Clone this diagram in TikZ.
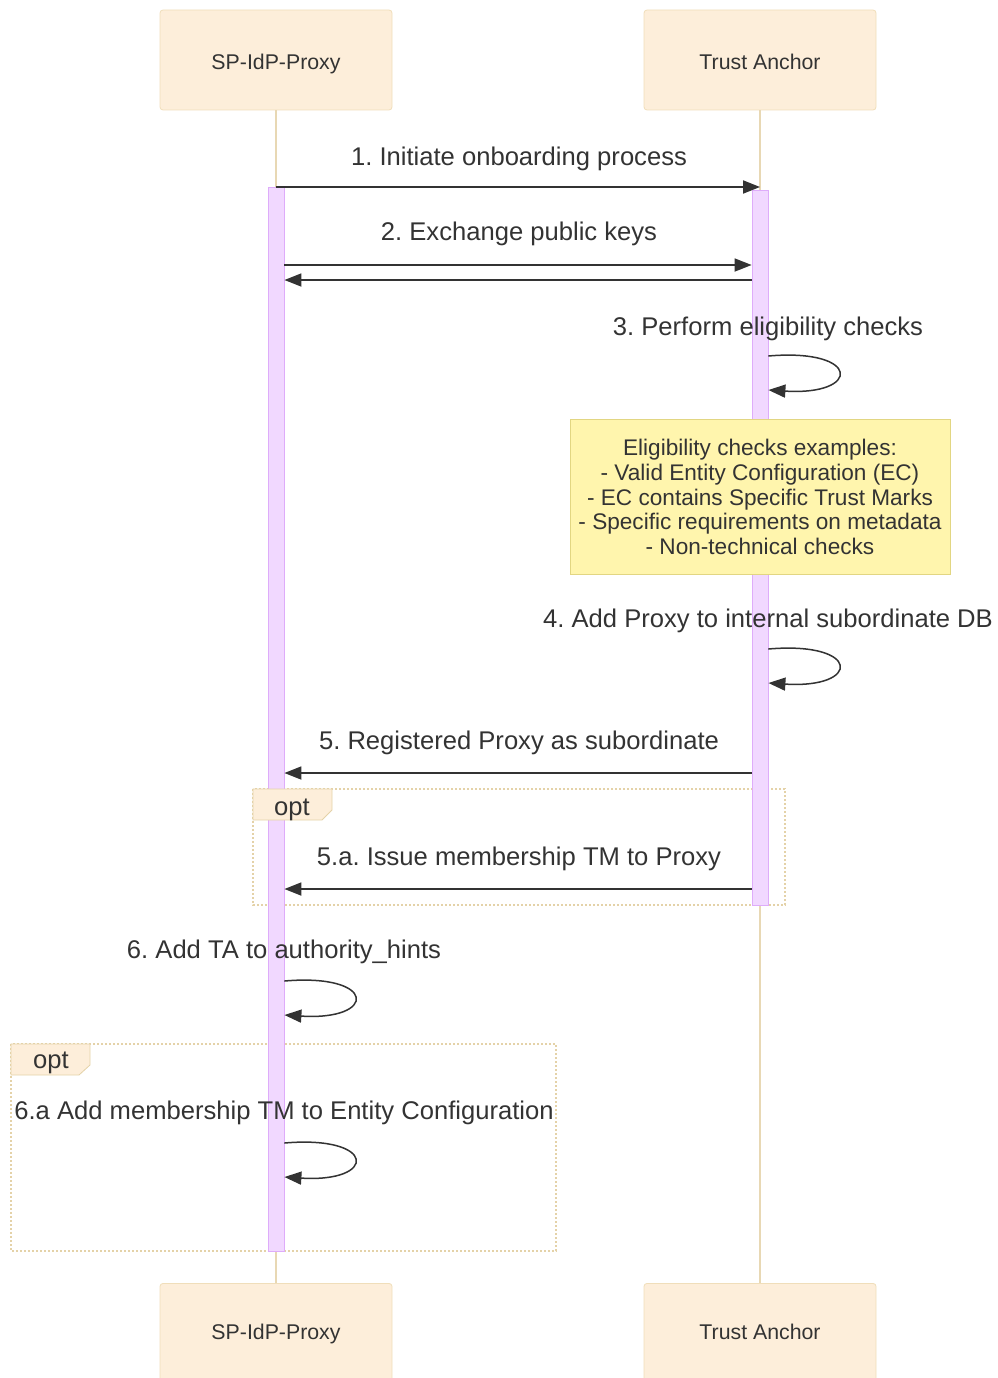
\documentclass[tikz,border=0pt]{standalone}
\usepackage{fontspec}
\setmainfont{Liberation Sans}
\usetikzlibrary{arrows.meta}
\frenchspacing

\definecolor{actorfill}{RGB}{253,238,218}
\definecolor{actorline}{RGB}{240,222,186}
\definecolor{lifeline}{RGB}{232,216,180}
\definecolor{actfill}{RGB}{241,216,255}
\definecolor{actline}{RGB}{222,172,250}
\definecolor{notefill}{RGB}{255,245,173}
\definecolor{noteline}{RGB}{226,214,130}
\definecolor{optline}{RGB}{228,210,168}
\definecolor{txt}{RGB}{51,51,51}
\definecolor{msgline}{RGB}{51,51,51}

\tikzset{
  actor/.style={draw=actorline, fill=actorfill, rounded corners=3pt, line width=0.8pt,
    minimum width=232pt, minimum height=100pt, inner sep=0pt},
  actortxt/.style={font=\fontsize{21.3}{24}\selectfont, text=txt, inner sep=0pt, anchor=base},
  lifeln/.style={draw=lifeline, line width=1.2pt},
  actbar/.style={draw=actline, fill=actfill, line width=0.8pt, minimum width=16pt, inner sep=0pt},
  msg/.style={draw=msgline, line width=1.8pt, -{Triangle[length=17pt,width=13pt]}},
  msglbl/.style={font=\fontsize{25.6}{28}\selectfont, text=txt, inner sep=0pt, anchor=base},
  notebox/.style={draw=noteline, fill=notefill, line width=0.8pt, minimum width=380pt,
    minimum height=155pt, inner sep=0pt},
  notetxt/.style={align=center, inner sep=0pt,
    font=\fontsize{22.6}{24.75}\selectfont, text=txt},
  optframe/.style={draw=optline, line width=1.8pt, dash pattern=on 2pt off 2pt},
  opttab/.style={draw=optline, fill=actorfill, line width=0.8pt},
  optlbl/.style={font=\fontsize{25.6}{28}\selectfont, text=txt, inner sep=0pt, anchor=base},
}

\begin{document}
\begin{tikzpicture}[x=1pt, y=-1pt]
\useasboundingbox (0,0) rectangle (998,1378);

% participants, top and bottom
\node[actor] (spTop) at (276,60) {};
\node[actor] (taTop) at (760,60) {};
\node[actortxt] (spTopTxt) at (276,69.5) {SP-IdP-Proxy};
\node[actortxt] (taTopTxt) at (760,69.5) {Trust Anchor};
\node[actor, anchor=north] (spBot) at (276,1283) {};
\node[actor, anchor=north] (taBot) at (760,1283) {};
\node[actortxt] (spBotTxt) at (276,1339.5) {SP-IdP-Proxy};
\node[actortxt] (taBotTxt) at (760,1339.5) {Trust Anchor};

% lifelines
\draw[lifeln] (spTop.south) -- (spBot.north);
\draw[lifeln] (taTop.south) -- (taBot.north);

% opt frames
\draw[optframe] (253,789) rectangle (785,905);
\draw[optframe] (11,1044) rectangle (556,1251);

% activation bars
\node[actbar, anchor=north, minimum height=1064pt] (spAct) at (276,187) {};
\node[actbar, anchor=north, minimum height=715pt] (taAct) at (760,190) {};

% message end points
\coordinate (m1s) at (276,187);
\coordinate (m1e) at (760,187);
\coordinate (m2s) at (spAct.east |- 0,265);
\coordinate (m2e) at (taAct.west |- 0,265);
\coordinate (m2bs) at (taAct.west |- 0,280);
\coordinate (m2be) at (spAct.east |- 0,280);
\coordinate (m5s) at (taAct.west |- 0,773);
\coordinate (m5e) at (spAct.east |- 0,773);
\coordinate (m5as) at (taAct.west |- 0,889);
\coordinate (m5ae) at (spAct.east |- 0,889);
\coordinate (l3s) at (taAct.east |- 0,356);
\coordinate (l3e) at (taAct.east |- 0,390);
\coordinate (l4s) at (taAct.east |- 0,649);
\coordinate (l4e) at (taAct.east |- 0,683);
\coordinate (l6s) at (spAct.east |- 0,981);
\coordinate (l6e) at (spAct.east |- 0,1015);
\coordinate (l6as) at (spAct.east |- 0,1143);
\coordinate (l6ae) at (spAct.east |- 0,1177);

% 1
\node[msglbl] (lbl1) at (519,165.5) {1. Initiate onboarding process};
\draw[msg] (m1s) -- (m1e);
% 2
\node[msglbl] (lbl2) at (519,240.5) {2. Exchange public keys};
\draw[msg] (m2s) -- (m2e);
\draw[msg] (m2bs) -- (m2be);
% 3
\node[msglbl] (lbl3) at (768,335) {3. Perform eligibility checks};
\draw[msg, line width=1.5pt] (l3s) .. controls ++(93,-8) and ++(93,6) .. (l3e);
% note
\node[notebox] (note) at (760,496.5) {};
\node[notetxt] (notetext) at (760,497) {Eligibility checks examples:\\
- Valid Entity Configuration (EC)\\
- EC contains Specific Trust Marks\\
- Specific requirements on metadata\\
- Non-technical checks};
% 4
\node[msglbl] (lbl4) at (768,627.5) {4. Add Proxy to internal subordinate DB};
\draw[msg, line width=1.5pt] (l4s) .. controls ++(93,-8) and ++(93,6) .. (l4e);
% 5
\node[msglbl] (lbl5) at (519,749.5) {5. Registered Proxy as subordinate};
\draw[msg] (m5s) -- (m5e);
% opt tab 1
\draw[opttab] (253,789) -- (332,789) -- (332,810) -- (322,820) -- (253,820) -- cycle;
\node[optlbl] (opt1) at (292,815) {opt};
% 5.a
\node[msglbl] (lbl5a) at (519,865.5) {5.a. Issue membership TM to Proxy};
\draw[msg] (m5as) -- (m5ae);
% 6
\node[msglbl] (lbl6) at (284,958.5) {6. Add TA to authority\_hints};
\draw[msg, line width=1.5pt] (l6s) .. controls ++(93,-8) and ++(93,6) .. (l6e);
% opt tab 2
\draw[opttab] (11,1044) -- (90,1044) -- (90,1065) -- (79,1075) -- (11,1075) -- cycle;
\node[optlbl] (opt2) at (51,1068) {opt};
% 6.a
\node[msglbl] (lbl6a) at (284,1119.5) {6.a Add membership TM to Entity Configuration};
\draw[msg, line width=1.5pt] (l6as) .. controls ++(93,-8) and ++(93,6) .. (l6ae);
\end{tikzpicture}
\end{document}
